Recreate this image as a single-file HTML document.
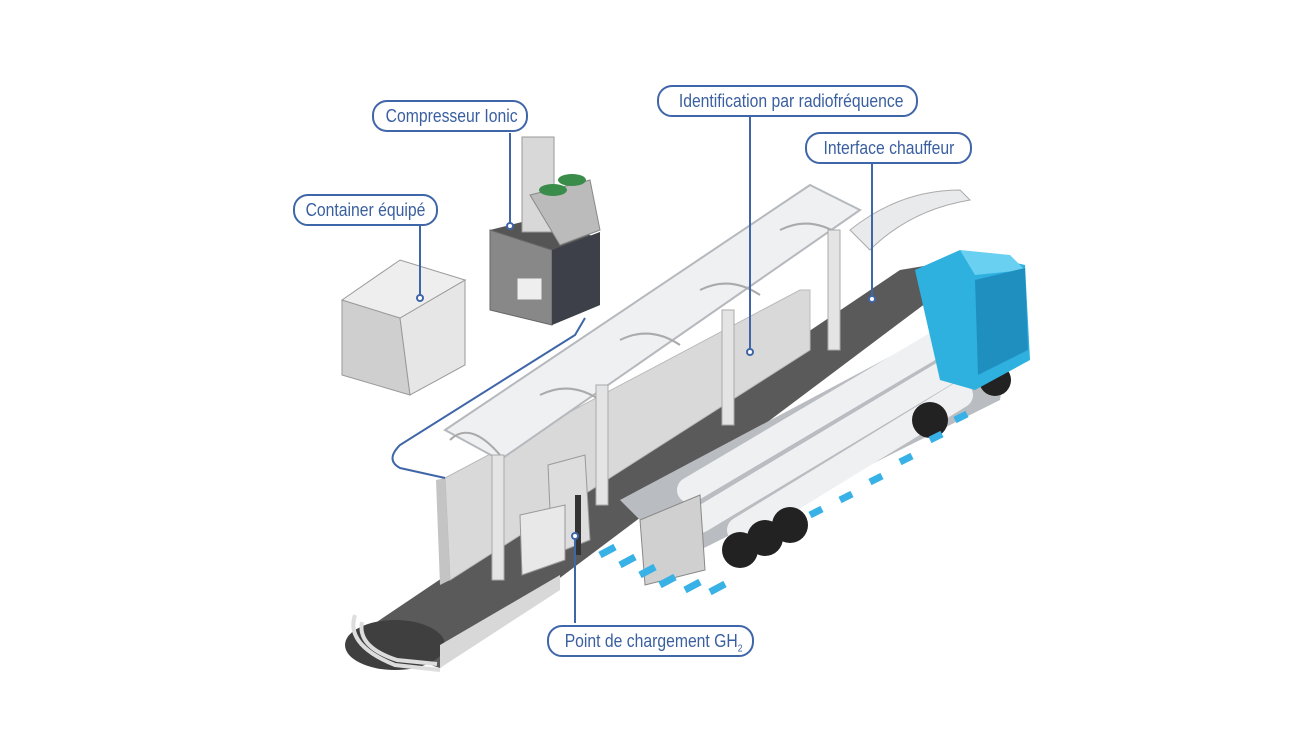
<!DOCTYPE html>
<html><head><meta charset="utf-8"><style>
html,body{margin:0;padding:0;background:#fff;}
.lab{position:absolute;height:28px;border:2px solid #3f66a8;border-radius:15px;background:#fff;color:#3a5fa0;font-family:"Liberation Sans",sans-serif;font-size:18.5px;line-height:28px;text-align:center;box-sizing:content-box;white-space:nowrap;overflow:visible;}
.lab span{display:inline-block;transform:scaleX(0.85);transform-origin:center;}
</style></head><body>
<div style="position:relative;width:1315px;height:729px;overflow:hidden">
<svg width="1315" height="729" style="position:absolute;left:0;top:0">
<polygon points="350,640 440,668 930,300 1000,285 960,260 900,270" fill="#5a5a5a"/>
<ellipse cx="395" cy="645" rx="50" ry="25" fill="#3f3f3f"/>
<path d="M355,615 q-10,30 40,50 l45,5" fill="none" stroke="#ddd" stroke-width="4"/>
<path d="M362,622 q-5,25 35,38 l40,4" fill="none" stroke="#ddd" stroke-width="4"/>
<polygon points="440,645 560,575 560,590 440,668" fill="#d8d8d8"/>
<polygon points="445,478 800,290 810,290 810,350 450,580" fill="#d9d9d9" stroke="#bbb"/>
<polygon points="445,478 450,580 440,585 436,480" fill="#c4c4c4"/>
<polygon points="445,430 810,185 860,210 500,460" fill="#eef0f2" stroke="#b5b8bc" stroke-width="2"/>
<path d="M450,440 Q470,420 500,455 M540,395 Q570,380 600,400 M620,340 Q650,325 680,345 M700,290 Q730,275 760,295 M780,230 Q810,215 840,235" fill="none" stroke="#aaa" stroke-width="2"/>
<path d="M850,230 Q900,190 960,190 L970,200 Q910,210 870,250 Z" fill="#e8eaec" stroke="#aaa"/>
<g fill="#e4e4e4" stroke="#aaa">
<rect x="492" y="455" width="12" height="125"/><rect x="596" y="385" width="12" height="120"/>
<rect x="722" y="310" width="12" height="115"/><rect x="828" y="230" width="12" height="120"/>
</g>
<polygon points="548,465 585,455 590,540 552,555" fill="#ddd" stroke="#999"/>
<polygon points="520,515 565,505 565,560 522,575" fill="#e8e8e8" stroke="#999"/>
<rect x="575" y="495" width="6" height="60" fill="#333"/>
<polygon points="342,300 400,260 465,280 465,365 410,395 342,375" fill="#dcdcdc"/>
<polygon points="342,300 400,318 410,395 342,375" fill="#cfcfcf" stroke="#999"/>
<polygon points="400,318 465,280 465,365 410,395" fill="#e6e6e6" stroke="#999"/>
<polygon points="342,300 400,260 465,280 400,318" fill="#eee" stroke="#999"/>
<polygon points="490,230 550,215 600,240 600,305 552,325 490,310" fill="#555"/>
<polygon points="490,230 552,250 552,325 490,310" fill="#888" stroke="#666"/>
<polygon points="552,250 600,232 600,305 552,325" fill="#3d4048"/>
<rect x="522" y="137" width="32" height="95" fill="#d8d8d8" stroke="#999"/>
<polygon points="530,195 590,180 600,230 560,245" fill="#bbb" stroke="#888"/>
<ellipse cx="553" cy="190" rx="14" ry="6" fill="#3a8c4a"/><ellipse cx="572" cy="180" rx="14" ry="6" fill="#3a8c4a"/>
<rect x="517" y="278" width="25" height="22" fill="#eee" stroke="#888"/>
<polygon points="620,500 940,330 1010,330 1000,400 680,560" fill="#b9bcc0"/>
<g stroke="#eef0f2" stroke-width="26" stroke-linecap="round">
<line x1="690" y1="490" x2="935" y2="345"/><line x1="700" y1="520" x2="950" y2="370"/><line x1="740" y1="530" x2="960" y2="395"/>
</g>
<polygon points="640,520 700,495 705,570 645,585" fill="#d0d0d0" stroke="#888"/>
<g fill="#222"><circle cx="740" cy="550" r="18"/><circle cx="765" cy="538" r="18"/><circle cx="790" cy="525" r="18"/><circle cx="930" cy="420" r="18"/><circle cx="995" cy="380" r="16"/></g>
<polygon points="915,270 960,250 1025,265 1030,360 975,390 940,380" fill="#2fb1e0"/>
<polygon points="960,250 1010,255 1025,270 975,275" fill="#6ad0f2"/>
<polygon points="975,280 1025,268 1028,350 978,375" fill="#1f8fc0"/>
<g stroke="#38b1e6" stroke-width="7">
<path d="M600,555 l15,-8 M620,565 l15,-8 M640,575 l15,-8 M660,585 l15,-8 M685,590 l15,-8 M710,592 l15,-8"/>
<path d="M810,515 l12,-6 M840,500 l12,-6 M870,482 l12,-6 M900,462 l12,-6 M930,440 l12,-6 M955,420 l12,-6"/>
</g>
<g stroke="#3f66a8" stroke-width="2" fill="none">
<line x1="510" y1="133" x2="510" y2="225"/>
<line x1="750" y1="117" x2="750" y2="350"/>
<line x1="872" y1="164" x2="872" y2="298"/>
<line x1="420" y1="226" x2="420" y2="296"/>
<line x1="575" y1="623" x2="575" y2="537"/>
<path d="M585,318 L575,335 L400,445 Q385,460 400,468 L445,478"/>
</g>
<g fill="#fff" stroke="#3f66a8" stroke-width="2">
<circle cx="510" cy="226" r="3"/><circle cx="750" cy="352" r="3"/><circle cx="872" cy="299" r="3"/><circle cx="420" cy="298" r="3"/><circle cx="575" cy="536" r="3"/>
</g>
</svg>
<div class="lab" style="left:372px;top:100px;width:152px"><span>Compresseur Ionic</span></div>
<div class="lab" style="left:657px;top:85px;width:257px"><span>Identification par radiofréquence</span></div>
<div class="lab" style="left:805px;top:132px;width:163px"><span>Interface chauffeur</span></div>
<div class="lab" style="left:293px;top:194px;width:141px"><span>Container équipé</span></div>
<div class="lab" style="left:547px;top:625px;width:203px"><span>Point de chargement GH<sub style="font-size:10px">2</sub></span></div>
</div>
</body></html>
